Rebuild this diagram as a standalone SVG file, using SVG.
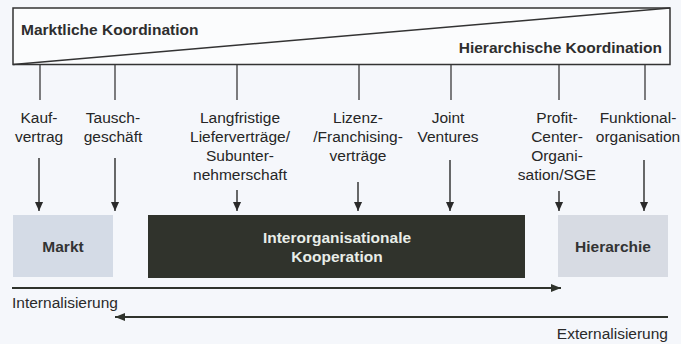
<svg xmlns="http://www.w3.org/2000/svg" width="681" height="344" viewBox="0 0 681 344">
  <defs>
    <marker id="head" viewBox="0 0 10 10" refX="10" refY="5" markerWidth="9" markerHeight="9" markerUnits="userSpaceOnUse" orient="auto">
      <path d="M0,0.5 L10,5 L0,9.5 z" fill="#2a2a2a"/>
    </marker>
    <marker id="headBig" viewBox="0 0 10 10" refX="10" refY="5" markerWidth="11" markerHeight="10" markerUnits="userSpaceOnUse" orient="auto">
      <path d="M0,1 L10,5 L0,9 z" fill="#2f332c"/>
    </marker>
    <style>
      .lbl { font-family: "Liberation Sans", Arial, sans-serif; font-size: 15.5px; fill: #262626; text-anchor: middle; }
      .ttl { font-family: "Liberation Sans", Arial, sans-serif; font-size: 15.5px; font-weight: bold; fill: #2e2e2e; }
      .box-t { font-family: "Liberation Sans", Arial, sans-serif; font-size: 15.5px; font-weight: bold; text-anchor: middle; }
      .tick { stroke: #3a3a3a; stroke-width: 1.3; }
      .arr { stroke: #2a2a2a; stroke-width: 1.4; fill: none; marker-end: url(#head); }
      .flow { stroke: #2f332c; stroke-width: 2; fill: none; marker-end: url(#headBig); }
      .flow-t { font-family: "Liberation Sans", Arial, sans-serif; font-size: 15.5px; fill: #2a2a2a; }
    </style>
  </defs>

  <rect width="681" height="344" fill="#f5f7fb"/>

  <!-- coordination wedge: rectangle split by a diagonal -->
  <g id="coordination">
    <rect x="13" y="8" width="657" height="56.5" fill="#fbfcfd" stroke="#333" stroke-width="1.5"/>
    <line x1="13" y1="64.5" x2="670" y2="8" stroke="#333" stroke-width="1.5"/>
    <text class="ttl" x="21" y="35">Marktliche Koordination</text>
    <text class="ttl" x="662" y="53" text-anchor="end">Hierarchische Koordination</text>
  </g>

  <!-- ticks under the wedge -->
  <g id="ticks">
    <line class="tick" x1="40" y1="65" x2="40" y2="100"/>
    <line class="tick" x1="115" y1="65" x2="115" y2="100"/>
    <line class="tick" x1="237" y1="65" x2="237" y2="100"/>
    <line class="tick" x1="359" y1="65" x2="359" y2="100"/>
    <line class="tick" x1="451" y1="65" x2="451" y2="100"/>
    <line class="tick" x1="559" y1="65" x2="559" y2="100"/>
    <line class="tick" x1="645" y1="65" x2="645" y2="100"/>
  </g>

  <!-- contract forms -->
  <g id="kaufvertrag">
    <text class="lbl" x="39" y="123">Kauf-</text>
    <text class="lbl" x="39" y="142">vertrag</text>
  </g>
  <g id="tauschgeschaeft">
    <text class="lbl" x="113" y="123">Tausch-</text>
    <text class="lbl" x="113" y="142">geschäft</text>
  </g>
  <g id="lieferverträge">
    <text class="lbl" x="240" y="123">Langfristige</text>
    <text class="lbl" x="240" y="142">Lieferverträge/</text>
    <text class="lbl" x="240" y="161">Subunter-</text>
    <text class="lbl" x="240" y="180">nehmerschaft</text>
  </g>
  <g id="lizenz">
    <text class="lbl" x="358" y="123">Lizenz-</text>
    <text class="lbl" x="358" y="142">/Franchising-</text>
    <text class="lbl" x="358" y="161">verträge</text>
  </g>
  <g id="joint-ventures">
    <text class="lbl" x="448" y="123">Joint</text>
    <text class="lbl" x="448" y="142">Ventures</text>
  </g>
  <g id="profit-center">
    <text class="lbl" x="557" y="123">Profit-</text>
    <text class="lbl" x="557" y="142">Center-</text>
    <text class="lbl" x="557" y="161">Organi-</text>
    <text class="lbl" x="557" y="180">sation/SGE</text>
  </g>
  <g id="funktionalorganisation">
    <text class="lbl" x="638" y="123">Funktional-</text>
    <text class="lbl" x="638" y="142">organisation</text>
  </g>

  <!-- result boxes -->
  <g id="markt">
    <rect x="13" y="215" width="100" height="62" fill="#d4dbe6"/>
    <text class="box-t" x="63" y="252" fill="#333">Markt</text>
  </g>
  <g id="kooperation">
    <rect x="148" y="215" width="377" height="63" fill="#30332c"/>
    <text class="box-t" x="337" y="243" fill="#e8ede8">Interorganisationale</text>
    <text class="box-t" x="337" y="262" fill="#e8ede8">Kooperation</text>
  </g>
  <g id="hierarchie">
    <rect x="558" y="215" width="110" height="62" fill="#d7dbe3"/>
    <text class="box-t" x="613" y="252" fill="#333">Hierarchie</text>
  </g>

  <!-- connectors -->
  <g id="connectors">
    <line class="arr" x1="39" y1="158" x2="39" y2="211"/>
    <line class="arr" x1="115" y1="158" x2="115" y2="211"/>
    <line class="arr" x1="237" y1="190" x2="237" y2="211"/>
    <line class="arr" x1="358" y1="182" x2="358" y2="211"/>
    <line class="arr" x1="450" y1="160" x2="450" y2="211"/>
    <line class="arr" x1="559" y1="191" x2="559" y2="211"/>
    <line class="arr" x1="644" y1="160" x2="644" y2="211"/>
    <line class="flow" x1="12" y1="288" x2="561" y2="288"/>
    <line class="flow" x1="668" y1="317" x2="115" y2="317"/>
  </g>

  <g id="flow-labels">
    <text class="flow-t" x="12" y="308">Internalisierung</text>
    <text class="flow-t" x="668" y="339" text-anchor="end">Externalisierung</text>
  </g>
</svg>
